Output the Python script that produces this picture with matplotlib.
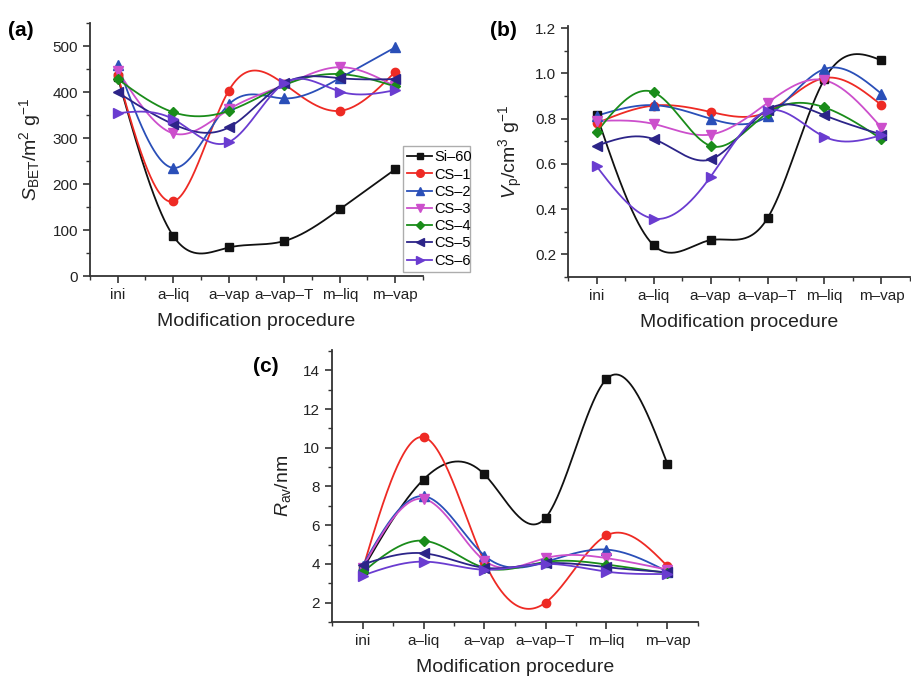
import numpy as np
import matplotlib
matplotlib.use("Agg")
import matplotlib.pyplot as plt
from matplotlib.ticker import MultipleLocator, FixedLocator

plt.rcParams['font.family'] = ['Liberation Sans', 'DejaVu Sans']
plt.rcParams['mathtext.fontset'] = 'custom'
plt.rcParams['mathtext.rm'] = 'Liberation Sans'
plt.rcParams['mathtext.it'] = 'Liberation Sans:italic'

categories = ["ini", "a\u2013liq", "a\u2013vap", "a\u2013vap\u2013T", "m\u2013liq", "m\u2013vap"]
series_names = ["Si\u201360", "CS\u20131", "CS\u20132", "CS\u20133", "CS\u20134", "CS\u20135", "CS\u20136"]

# (a) S_BET / m2 g-1
sbet_si60 = [432, 87, 62, 76, 145, 232]
sbet_cs1 = [436, 162, 403, 417, 359, 444]
sbet_cs2 = [459, 235, 373, 386, 430, 497]
sbet_cs3 = [446, 310, 362, 415, 454, 412]
sbet_cs4 = [428, 356, 359, 415, 439, 412]
sbet_cs5 = [399, 330, 323, 419, 430, 428]
sbet_cs6 = [354, 341, 291, 419, 401, 404]

# (b) Vp / cm3 g-1
vp_si60 = [0.818, 0.241, 0.263, 0.36, 0.975, 1.058]
vp_cs1 = [0.78, 0.858, 0.83, 0.83, 0.98, 0.86]
vp_cs2 = [0.813, 0.86, 0.80, 0.81, 1.02, 0.91]
vp_cs3 = [0.79, 0.777, 0.73, 0.87, 0.97, 0.76]
vp_cs4 = [0.74, 0.917, 0.68, 0.825, 0.85, 0.71]
vp_cs5 = [0.68, 0.71, 0.62, 0.84, 0.815, 0.73]
vp_cs6 = [0.59, 0.358, 0.543, 0.835, 0.72, 0.727]

# (c) R_av / nm
rav_si60 = [3.7, 8.36, 8.62, 6.38, 13.55, 9.16]
rav_cs1 = [3.7, 10.55, 4.1, 2.0, 5.47, 3.88]
rav_cs2 = [3.9, 7.5, 4.43, 4.1, 4.74, 3.6]
rav_cs3 = [3.8, 7.36, 4.17, 4.3, 4.3, 3.7]
rav_cs4 = [3.57, 5.2, 3.8, 4.1, 3.97, 3.53]
rav_cs5 = [3.97, 4.55, 3.8, 4.03, 3.83, 3.57]
rav_cs6 = [3.4, 4.12, 3.7, 4.0, 3.6, 3.48]

colors = ["#111111", "#ee2a24", "#2a4fb8", "#cc4fcc", "#1a8c1a", "#2c2488", "#6a3cd0"]
markers = ["s", "o", "^", "v", "D", "<", ">"]
msizes = [5.5, 6, 6.5, 6.5, 5, 6.5, 6.5]


def natural_spline(x, y, n=300):
    x = np.asarray(x, float)
    y = np.asarray(y, float)
    k = len(x)
    h = np.diff(x)
    A = np.zeros((k, k))
    b = np.zeros(k)
    A[0, 0] = 1
    A[-1, -1] = 1
    for i in range(1, k - 1):
        A[i, i - 1] = h[i - 1]
        A[i, i] = 2 * (h[i - 1] + h[i])
        A[i, i + 1] = h[i]
        b[i] = 6 * ((y[i + 1] - y[i]) / h[i] - (y[i] - y[i - 1]) / h[i - 1])
    M = np.linalg.solve(A, b)
    xs = np.linspace(x[0], x[-1], n)
    idx = np.clip(np.searchsorted(x, xs) - 1, 0, k - 2)
    x0, x1 = x[idx], x[idx + 1]
    hh = x1 - x0
    t1 = x1 - xs
    t0 = xs - x0
    ys = (M[idx] * t1 ** 3 / (6 * hh) + M[idx + 1] * t0 ** 3 / (6 * hh)
          + (y[idx] / hh - M[idx] * hh / 6) * t1
          + (y[idx + 1] / hh - M[idx + 1] * hh / 6) * t0)
    return xs, ys


W, H = 912, 679
fig = plt.figure(figsize=(W / 100, H / 100), dpi=100)


def mkax(l, r, t, b):
    return fig.add_axes([l / W, 1 - b / H, (r - l) / W, (b - t) / H])


axa = mkax(90, 423, 23, 276)
axb = mkax(568, 910, 26, 277)
axc = mkax(332, 698, 350, 622)

xpos = np.arange(len(categories))


def style(ax, ylim, major, minor, ylabel, labelpad):
    for s in ["top", "right"]:
        ax.spines[s].set_visible(False)
    for s in ["left", "bottom"]:
        ax.spines[s].set_linewidth(1.3)
        ax.spines[s].set_color("#333333")
    ax.set_xlim(-0.5, 5.5)
    ax.set_ylim(*ylim)
    ax.set_xticks(xpos)
    ax.set_xticklabels(categories)
    ax.xaxis.set_minor_locator(FixedLocator(np.arange(-0.5, 5.6, 1.0)))
    ax.yaxis.set_major_locator(MultipleLocator(major))
    ax.yaxis.set_minor_locator(MultipleLocator(minor))
    ax.tick_params(which="major", direction="out", length=5, width=1.2,
                   labelsize=11, colors="#333333", labelcolor="#222222")
    ax.tick_params(which="minor", direction="out", length=3, width=1.0, colors="#333333")
    ax.set_xlabel("Modification procedure", fontsize=14, color="#222222", labelpad=8)
    ax.set_ylabel(ylabel, fontsize=14, color="#222222", labelpad=labelpad)
    ax.patch.set_alpha(0)


def draw(ax, data):
    for i, ys in enumerate(data):
        xs_s, ys_s = natural_spline(xpos, ys)
        ax.plot(xs_s, ys_s, color=colors[i], lw=1.3, zorder=2 + i * 0.01)
    for i, ys in enumerate(data):
        ax.plot(xpos, ys, linestyle="none", marker=markers[i], ms=msizes[i],
                color=colors[i], zorder=3 + i * 0.01, clip_on=False)


data_a = [sbet_si60, sbet_cs1, sbet_cs2, sbet_cs3, sbet_cs4, sbet_cs5, sbet_cs6]
data_b = [vp_si60, vp_cs1, vp_cs2, vp_cs3, vp_cs4, vp_cs5, vp_cs6]
data_c = [rav_si60, rav_cs1, rav_cs2, rav_cs3, rav_cs4, rav_cs5, rav_cs6]

draw(axa, data_a)
draw(axb, data_b)
draw(axc, data_c)

style(axa, (0, 550), 100, 50, r"$\mathit{S}_{\mathrm{BET}}$/m$^{2}$ g$^{-1}$", 7)
style(axb, (0.1, 1.21), 0.2, 0.1, r"$\mathit{V}_{\mathrm{p}}$/cm$^{3}$ g$^{-1}$", 7)
style(axc, (1, 15.05), 2, 1, r"$\mathit{R}_{\mathrm{av}}$/nm", 7)
axb.yaxis.set_major_formatter(matplotlib.ticker.FormatStrFormatter("%.1f"))

# legend
handles = [plt.Line2D([], [], color=colors[i], marker=markers[i], ms=msizes[i] - 0.5, lw=1.3)
           for i in range(len(series_names))]
leg = axa.legend(handles, series_names, loc="lower left",
                 bbox_to_anchor=((403 - 90) / 333, (276 - 272) / 253, (470 - 403) / 333, (272 - 150) / 253),
                 mode="expand", fontsize=10.5, frameon=True, fancybox=False,
                 handlelength=1.7, handletextpad=0.15, borderpad=0.3, labelspacing=0.22,
                 borderaxespad=0)
leg.get_frame().set_edgecolor("#999999")
leg.get_frame().set_linewidth(1.0)
leg.set_zorder(10)

fig.text(8 / W, 1 - 30 / H, "(a)", fontsize=15, fontweight="bold", va="center", ha="left")
fig.text(490 / W, 1 - 30 / H, "(b)", fontsize=15, fontweight="bold", va="center", ha="left")
fig.text(253 / W, 1 - 367 / H, "(c)", fontsize=15, fontweight="bold", va="center", ha="left")

fig.savefig("out.png", dpi=100)
